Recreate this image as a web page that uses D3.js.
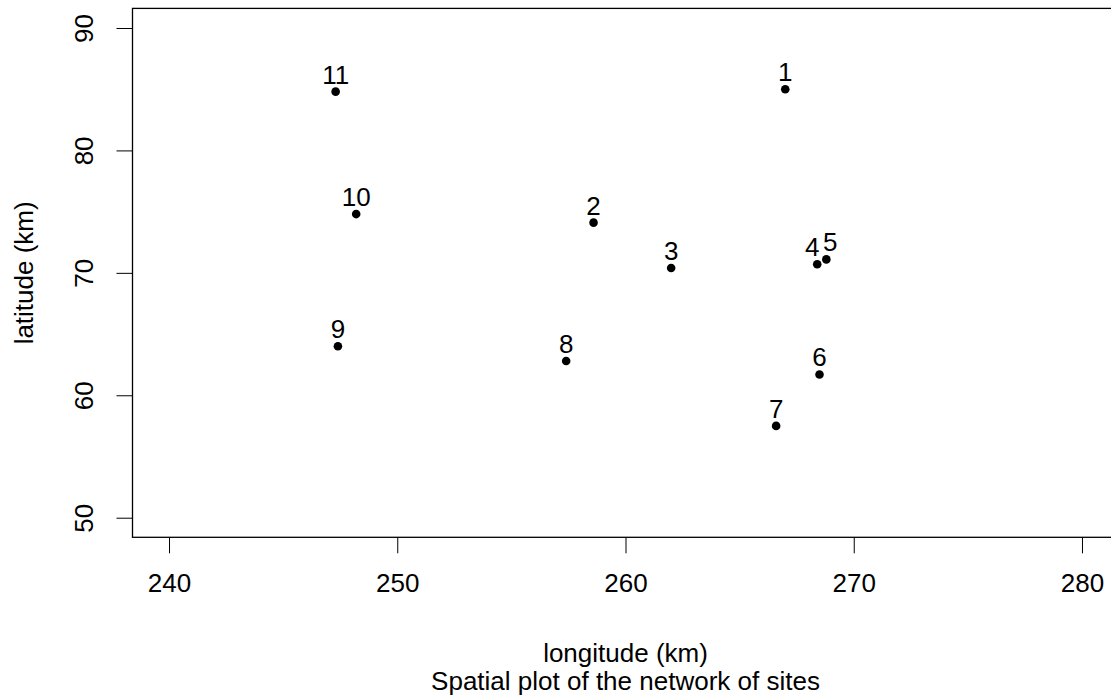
<!DOCTYPE html>
<html>
<head>
<meta charset="utf-8">
<script src="https://cdn.jsdelivr.net/npm/d3@7"></script>
<style>
  body { margin: 0; background: #fff; }
  svg text { font-family: "Liberation Sans", Arial, sans-serif; fill: #000; font-size: 26px; }
</style>
</head>
<body>
<div id="chart"></div>
<script>
const sites = ["1", "2", "3", "4", "5", "6", "7", "8", "9", "10", "11"];
const longitude = [267.0, 258.6, 262.0, 268.4, 268.8, 268.5, 266.6, 257.4, 247.4, 248.2, 247.3];
const latitude = [85.0, 74.1, 70.4, 70.7, 71.1, 61.7, 57.5, 62.8, 64.0, 74.8, 84.8];
const xTicks = [240, 250, 260, 270, 280];
const yTicks = [50, 60, 70, 80, 90];

const width = 1111;
const height = 697;
const plotLeft = 132.5, plotRight = 1118.5, plotTop = 8.4, plotBottom = 537.3;
// sites 4 and 5 sit close together, their labels are pushed apart a little
const labelNudge = { "4": -5, "5": 4 };

const svg = d3.select("#chart")
  .append("svg")
  .attr("width", width)
  .attr("height", height);

// R style: 4% padding around the tick range
const x = d3.scaleLinear().domain([238.4, 281.6]).range([plotLeft, plotRight]);
const y = d3.scaleLinear().domain([48.4, 91.6]).range([plotBottom, plotTop]);

svg.append("rect")
  .attr("x", plotLeft)
  .attr("y", plotTop)
  .attr("width", plotRight - plotLeft)
  .attr("height", plotBottom - plotTop)
  .attr("fill", "none")
  .attr("stroke", "#000")
  .attr("stroke-width", 1.3);

const xAxis = svg.append("g")
  .attr("transform", `translate(0, ${plotBottom})`)
  .call(d3.axisBottom(x).tickValues(xTicks).tickSize(16).tickSizeOuter(0).tickFormat(d3.format("d")));
xAxis.select(".domain").remove();
xAxis.selectAll("text")
  .attr("y", 0)
  .attr("dy", 0)
  .attr("transform", "translate(0, 55)")
  .style("font-size", "26px");

const yAxis = svg.append("g")
  .attr("transform", `translate(${plotLeft}, 0)`)
  .call(d3.axisLeft(y).tickValues(yTicks).tickSize(16).tickSizeOuter(0).tickFormat(d3.format("d")));
yAxis.select(".domain").remove();
yAxis.selectAll("text")
  .attr("x", 0)
  .attr("dy", 0)
  .attr("text-anchor", "middle")
  .attr("transform", "translate(-40, 0) rotate(-90)")
  .style("font-size", "26px");

svg.selectAll(".tick line").attr("stroke", "#000").attr("stroke-width", 1);

svg.selectAll("circle.site")
  .data(sites)
  .enter()
  .append("circle")
  .attr("class", "site")
  .attr("cx", (d, i) => x(longitude[i]))
  .attr("cy", (d, i) => y(latitude[i]))
  .attr("r", 4.3)
  .attr("fill", "#000");

svg.selectAll("text.label")
  .data(sites)
  .enter()
  .append("text")
  .attr("class", "label")
  .attr("x", (d, i) => x(longitude[i]) + (labelNudge[d] || 0))
  .attr("y", (d, i) => y(latitude[i]) - 8)
  .attr("text-anchor", "middle")
  .text(d => d);

svg.append("text")
  .attr("x", (plotLeft + plotRight) / 2)
  .attr("y", 662)
  .attr("text-anchor", "middle")
  .text("longitude (km)");

svg.append("text")
  .attr("x", (plotLeft + plotRight) / 2)
  .attr("y", 690)
  .attr("text-anchor", "middle")
  .text("Spatial plot of the network of sites");

svg.append("text")
  .attr("transform", `translate(33, ${(plotTop + plotBottom) / 2}) rotate(-90)`)
  .attr("text-anchor", "middle")
  .text("latitude (km)");
</script>
</body>
</html>
